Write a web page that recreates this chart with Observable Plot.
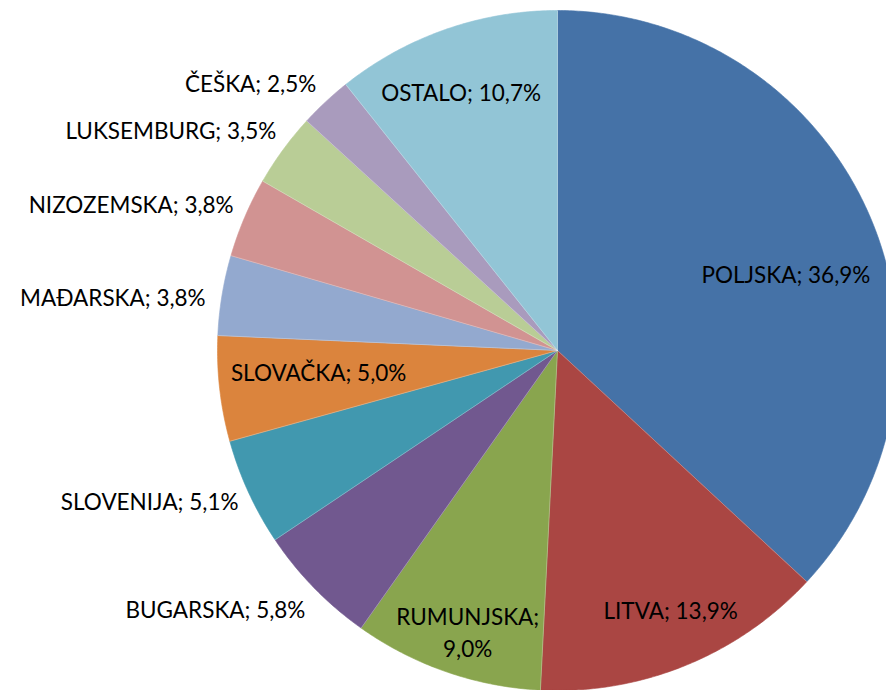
<!DOCTYPE html>
<html>
<head>
<meta charset="utf-8">
<script src="https://cdn.jsdelivr.net/npm/d3@7"></script>
<script src="https://cdn.jsdelivr.net/npm/@observablehq/plot@0.6"></script>
<style>
  html, body { margin: 0; padding: 0; background: #fff; }
  #chart { width: 886px; height: 690px; overflow: hidden; }
</style>
</head>
<body>
<div id="chart"></div>
<script>
// ---- data ----
const countries = ["POLJSKA", "LITVA", "RUMUNJSKA", "BUGARSKA", "SLOVENIJA", "SLOVAČKA", "MAĐARSKA", "NIZOZEMSKA", "LUKSEMBURG", "ČEŠKA", "OSTALO"];
const shares = [36.9, 13.9, 9.0, 5.8, 5.1, 5.0, 3.8, 3.8, 3.5, 2.5, 10.7];
const colors = ["#4572A7", "#AA4643", "#89A54E", "#71588F", "#4198AF", "#DB843D", "#93A9CF", "#D19392", "#B9CD96", "#A99BBD", "#92C5D6"];

// label placement (radius as fraction of pie radius, angle nudge in degrees, anchor)
const labelR = [0.71, 0.83, 0.865, 1.065, 1.04, 0.705, 1.046, 1.043, 1.048, 1.056, 0.815];
const labelShift = [4.7, -1.5, -1.3, -1.6, -0.9, 1.7, -1, 1, 1.7, 0.8, -1.1];
const labelAnchor = ["middle", "middle", "middle", "end", "end", "middle", "end", "end", "end", "end", "middle"];

// ---- geometry ----
const W = 886, H = 690, R = 340, CX = 557, CY = 350;
const pie = d3.pie().sort(null).value(d => d)(shares);
const rows = [];
pie.forEach((p, i) => {
  const a0 = p.startAngle, a1 = p.endAngle;
  rows.push({name: countries[i], x: 0, y: 0});
  const n = Math.max(4, Math.ceil((a1 - a0) / (Math.PI / 360)));
  for (let k = 0; k <= n; k++) {
    const a = a0 + (a1 - a0) * k / n;
    rows.push({name: countries[i], x: Math.sin(a), y: Math.cos(a)});
  }
  rows.push({name: countries[i], x: 0, y: 0});
});

const fmt = v => v.toFixed(1).replace(".", ",") + "%";
const labels = pie.map((p, i) => {
  const a = (p.startAngle + p.endAngle) / 2 + labelShift[i] * Math.PI / 180;
  const sep = countries[i] === "RUMUNJSKA" ? ";\n" : "; ";
  return {
    name: countries[i],
    text: countries[i] + sep + fmt(shares[i]),
    x: labelR[i] * Math.sin(a),
    y: labelR[i] * Math.cos(a),
    anchor: labelAnchor[i]
  };
});

const seps = pie.map(p => ({x1: 0, y1: 0, x2: Math.sin(p.startAngle), y2: Math.cos(p.startAngle)}));

const plot = Plot.plot({
  width: W,
  height: H,
  margin: 0,
  x: {domain: [-CX / R, (W - CX) / R], axis: null},
  y: {domain: [-(H - CY) / R, CY / R], axis: null},
  color: {domain: countries, range: colors},
  style: {fontFamily: "Lato, 'Open Sans', sans-serif", background: "white"},
  marks: [
    Plot.line(rows, {x: "x", y: "y", z: "name", fill: "name", stroke: "name", strokeWidth: 0.6, curve: "linear"}),
    Plot.link(seps, {x1: "x1", y1: "y1", x2: "x2", y2: "y2", stroke: "white", strokeOpacity: 0.35, strokeWidth: 0.8}),
    Plot.text(labels.filter(d => d.anchor === "middle"), {x: "x", y: "y", text: "text", textAnchor: "middle", fontSize: 22.5, fill: "black", lineHeight: 1.45}),
    Plot.text(labels.filter(d => d.anchor === "end"), {x: "x", y: "y", text: "text", textAnchor: "end", fontSize: 22.5, fill: "black"})
  ]
});
document.getElementById("chart").appendChild(plot);
</script>
</body>
</html>
